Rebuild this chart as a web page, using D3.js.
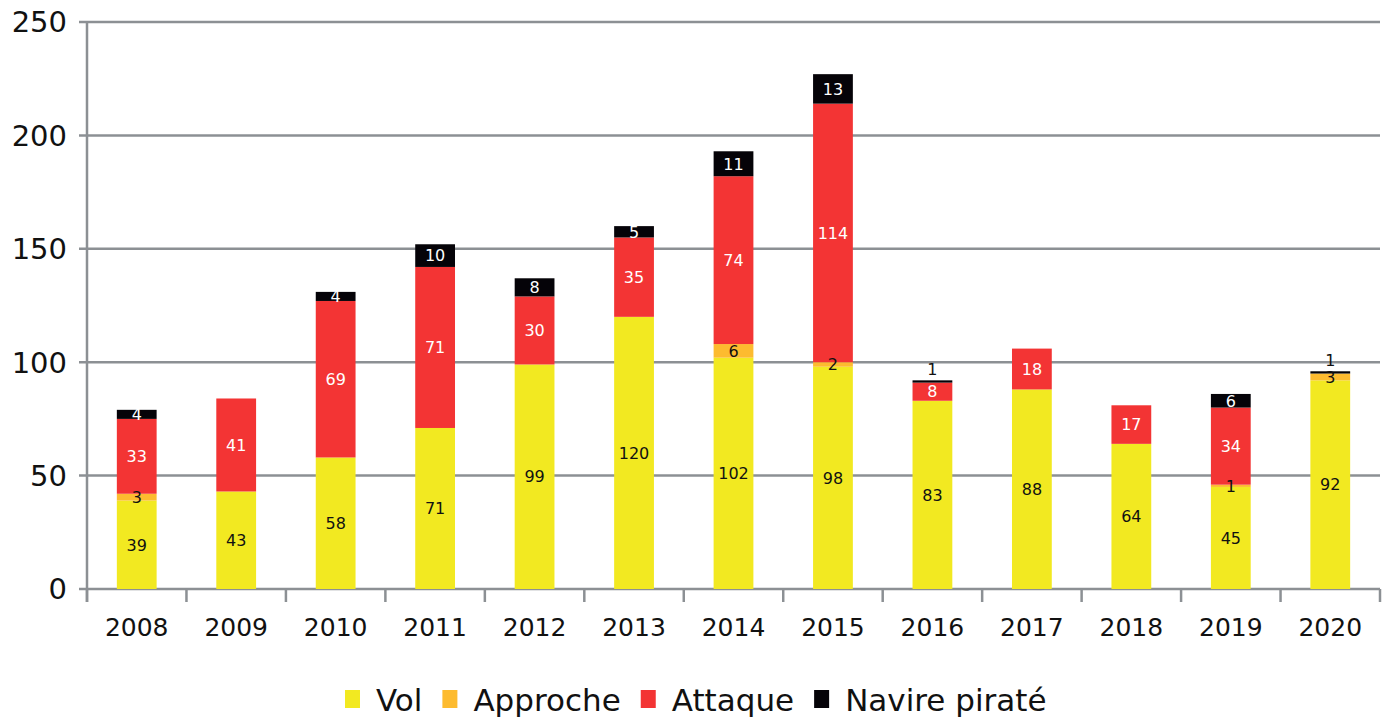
<!DOCTYPE html>
<html>
<head>
<meta charset="utf-8">
<script src="https://cdn.jsdelivr.net/npm/d3@7"></script>
<style>
  html, body { margin: 0; padding: 0; background: #fff; }
  svg { display: block; font-family: "DejaVu Sans", "Noto Sans", sans-serif; }
</style>
</head>
<body>
<svg id="chart" width="1389" height="722"></svg>
<script>
// Incidents per year, split by type
const years = ["2008","2009","2010","2011","2012","2013","2014","2015","2016","2017","2018","2019","2020"];
const vol      = [39, 43, 58, 71, 99, 120, 102, 98, 83, 88, 64, 45, 92];
const approche = [3, 0, 0, 0, 0, 0, 6, 2, 0, 0, 0, 1, 3];
const attaque  = [33, 41, 69, 71, 30, 35, 74, 114, 8, 18, 17, 34, 0];
const navire   = [4, 0, 4, 10, 8, 5, 11, 13, 1, 0, 0, 6, 1];
const seriesNames = ["Vol", "Approche", "Attaque", "Navire piraté"];
const yTicks = [0, 50, 100, 150, 200, 250];

const colors = ["#f2e921", "#fdbb2f", "#f33434", "#050308"];
const labelColors = ["#111", "#111", "#fff", "#fff"];

const svg = d3.select("#chart");
const margin = { left: 87, right: 9, top: 22, bottom: 133 };
const W = 1389, H = 722;

const x = d3.scaleBand().domain(years).range([margin.left, W - margin.right]).paddingInner(0.6).paddingOuter(0.3);
const y = d3.scaleLinear().domain([0, 250]).range([H - margin.bottom, margin.top]);

const grid = "#8c9094";

// horizontal gridlines with tick stubs
svg.append("g").selectAll("line").data(yTicks).join("line")
  .attr("x1", margin.left - 8).attr("x2", W - margin.right)
  .attr("y1", d => y(d)).attr("y2", d => y(d))
  .attr("stroke", grid).attr("stroke-width", 2.5);

// y axis line
svg.append("line")
  .attr("x1", margin.left).attr("x2", margin.left)
  .attr("y1", y(250)).attr("y2", y(0) + 13)
  .attr("stroke", grid).attr("stroke-width", 2.5);

// category separators below the baseline
const step = x.step();
const bounds = d3.range(years.length + 1).map(i => margin.left + i * step);
svg.append("g").selectAll("line").data(bounds).join("line")
  .attr("x1", d => d).attr("x2", d => d)
  .attr("y1", y(0)).attr("y2", y(0) + 13)
  .attr("stroke", grid).attr("stroke-width", 2.5);

// y tick labels
svg.append("g").selectAll("text").data(yTicks).join("text")
  .attr("x", 67).attr("y", d => y(d))
  .attr("dy", "0.36em")
  .attr("text-anchor", "end")
  .attr("font-size", 29).attr("fill", "#111")
  .text(d => d);

// x tick labels
svg.append("g").selectAll("text").data(years).join("text")
  .attr("x", d => x(d) + x.bandwidth() / 2).attr("y", 636)
  .attr("text-anchor", "middle")
  .attr("font-size", 25).attr("fill", "#111")
  .text(d => d);

// stacked bars
const rows = years.map((yr, i) => ({ year: yr, s0: vol[i], s1: approche[i], s2: attaque[i], s3: navire[i] }));
const stack = d3.stack().keys(["s0", "s1", "s2", "s3"])(rows);

const layers = svg.append("g").selectAll("g").data(stack).join("g")
  .attr("fill", (d, i) => colors[i]);

layers.selectAll("rect").data(d => d).join("rect")
  .attr("x", d => x(d.data.year))
  .attr("width", x.bandwidth())
  .attr("y", d => y(d[1]))
  .attr("height", d => y(d[0]) - y(d[1]));

// value labels; very thin top segments get their label just above the bar
stack.forEach((layer, si) => {
  const thin = d => si === 3 && y(d[0]) - y(d[1]) < 6;
  svg.append("g").selectAll("text").data(layer.filter(d => d[1] - d[0] > 0)).join("text")
    .attr("x", d => x(d.data.year) + x.bandwidth() / 2)
    .attr("y", d => thin(d) ? y(d[1]) - 11 : (y(d[0]) + y(d[1])) / 2)
    .attr("dy", "0.36em")
    .attr("text-anchor", "middle")
    .attr("font-size", 16)
    .attr("fill", d => thin(d) ? "#111" : labelColors[si])
    .text(d => d[1] - d[0]);
});

// legend
const legend = svg.append("g");
let lx = 345;
seriesNames.forEach((name, i) => {
  legend.append("rect").attr("x", lx).attr("y", 690).attr("width", 15).attr("height", 18).attr("fill", colors[i]);
  const t = legend.append("text").attr("x", lx + 31).attr("y", 711)
    .attr("font-size", 31).attr("fill", "#111").text(name);
  lx += 31 + t.node().getComputedTextLength() + 20;
});
</script>
</body>
</html>
